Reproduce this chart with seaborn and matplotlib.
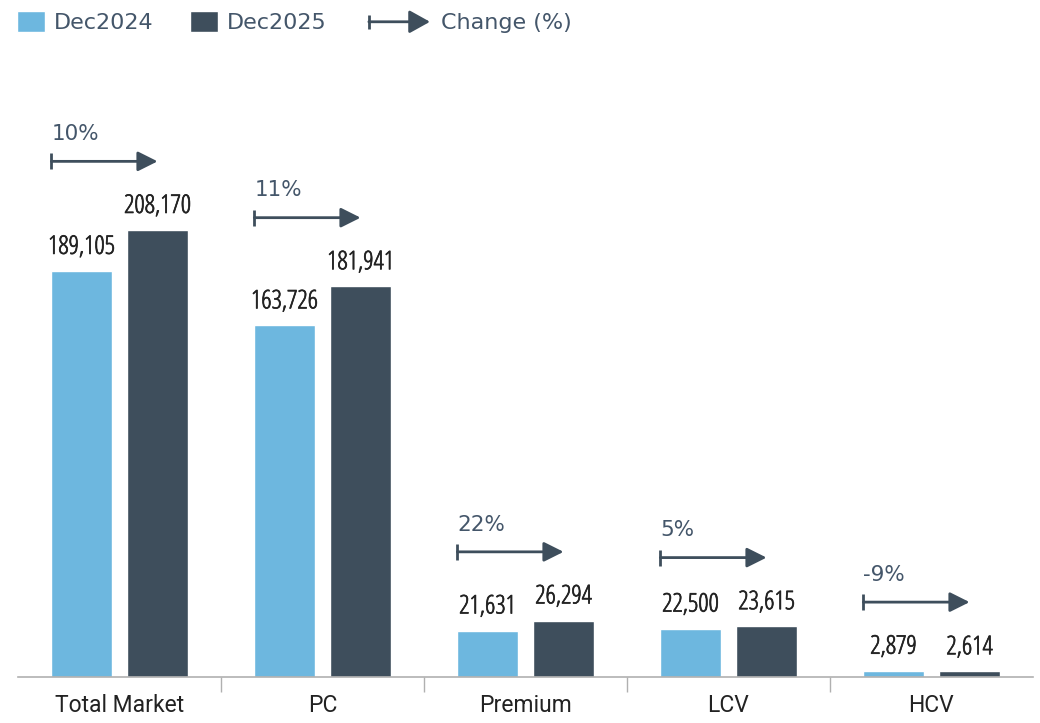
import matplotlib
matplotlib.use("Agg")
import matplotlib.pyplot as plt
import matplotlib.patheffects as pe
import seaborn as sns
import pandas as pd
from matplotlib.patches import Patch, FancyArrowPatch
from matplotlib.lines import Line2D
from matplotlib.legend_handler import HandlerBase

categories = ["Total Market", "PC", "Premium", "LCV", "HCV"]
dec2024 = [189105, 163726, 21631, 22500, 2879]
dec2025 = [208170, 181941, 26294, 23615, 2614]
change_labels = ["10%", "11%", "22%", "5%", "-9%"]
years = ["Dec2024", "Dec2025"]

LIGHT = "#6db7df"
DARK = "#3e4e5c"
TXT = "#44566a"
INK = "#222222"

df = pd.DataFrame({
    "category": categories * 2,
    "year": [years[0]] * len(categories) + [years[1]] * len(categories),
    "units": dec2024 + dec2025,
})

sns.set_theme(style="white")
plt.rcParams["font.family"] = ["DejaVu Sans"]
COND = dict(family=["Open Sans", "DejaVu Sans"], stretch="condensed")
thick = [pe.withStroke(linewidth=0.5, foreground=INK)]

fig = plt.figure(figsize=(10.4, 7.23), dpi=100)
ax = fig.add_axes([18 / 1040, 46 / 723, 1015 / 1040, 577 / 723])

sns.barplot(data=df, x="category", y="units", hue="year", order=categories,
            hue_order=years, palette=[LIGHT, DARK], saturation=1,
            width=0.75, gap=0.21, legend=False, ax=ax)

ax.set_xlim(-0.5, len(categories) - 0.5)
ax.set_ylim(0, 268750)
ax.set_xlabel("")
ax.set_ylabel("")
ax.set_yticks([])
for s in ["top", "right", "left"]:
    ax.spines[s].set_visible(False)
ax.spines["bottom"].set_color("#b0b0b0")
ax.spines["bottom"].set_linewidth(1.2)

ax.set_xticks(range(len(categories)))
ax.set_xticklabels(categories, fontsize=16.5, color=INK,
                   family=["Roboto", "DejaVu Sans"])
ax.set_xticks([i + 0.5 for i in range(len(categories) - 1)], minor=True)
ax.tick_params(axis="x", which="major", length=0, pad=12)
ax.tick_params(axis="x", which="minor", length=11, width=1, color="#b0b0b0",
               bottom=True)

# value labels
for container in ax.containers:
    texts = ax.bar_label(container,
                         labels=[f"{v:,.0f}" for v in container.datavalues],
                         padding=8, fontsize=18.5, color=INK, **COND)
    for t in texts:
        t.set_path_effects(thick)

# change arrows
bars_l = ax.containers[0]
bars_d = ax.containers[1]
offset = 32000
for i, lab in enumerate(change_labels):
    bl = bars_l[i]
    bd = bars_d[i]
    x0 = bl.get_x()
    x1 = bd.get_x() + bd.get_width() / 2
    top = max(dec2024[i], dec2025[i])
    y = top + offset
    ax.annotate("", xy=(x1, y), xytext=(x0, y),
                arrowprops=dict(arrowstyle="-|>,head_length=1.0,head_width=0.5",
                                color=DARK, lw=2, shrinkA=0, shrinkB=0))
    ax.plot([x0], [y], marker="|", markersize=12, markeredgewidth=2, color=DARK)
    ax.text(x0, y + 8000, lab, fontsize=15.5, color=TXT, ha="left",
            va="bottom")


class ArrowHandler(HandlerBase):
    def create_artists(self, legend, orig_handle, xdescent, ydescent, width,
                       height, fontsize, trans):
        yc = height / 2 - ydescent
        arr = FancyArrowPatch((-xdescent, yc), (width - xdescent, yc),
                              arrowstyle="-|>,head_length=0.9,head_width=0.5",
                              color=DARK, lw=2, mutation_scale=14,
                              shrinkA=0, shrinkB=0, transform=trans)
        tail = Line2D([-xdescent], [yc], marker="|", markersize=10,
                      markeredgewidth=2, color=DARK, transform=trans)
        return [arr, tail]


leg_font = {"family": ["DejaVu Sans"], "size": 16}
leg1 = fig.legend([Patch(facecolor=LIGHT), Patch(facecolor=DARK)], years,
                  loc="upper left", bbox_to_anchor=(0.006, 1.0), ncol=2,
                  frameon=False, prop=leg_font, handlelength=1.25,
                  handleheight=1.1, handletextpad=0.4, columnspacing=1.65,
                  borderaxespad=0.1)
leg2 = fig.legend([Line2D([], [])], ["Change (%)"],
                  handler_map={Line2D: ArrowHandler()},
                  loc="upper left", bbox_to_anchor=(0.344, 1.0),
                  frameon=False, prop=leg_font, handlelength=2.75,
                  handleheight=1.1, handletextpad=0.5, borderaxespad=0.1)
for leg in (leg1, leg2):
    for t in leg.get_texts():
        t.set_color(TXT)

fig.savefig("out.png", dpi=100)
